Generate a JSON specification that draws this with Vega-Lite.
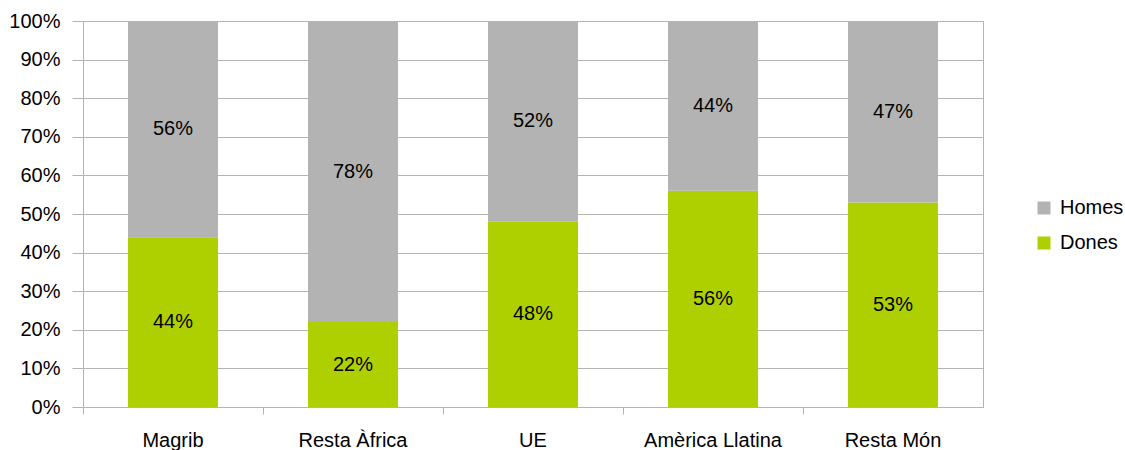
{
  "$schema": "https://vega.github.io/schema/vega-lite/v6.json",
  "autosize": {"type": "none"},
  "width": 900,
  "height": 386,
  "padding": {"left": 83, "top": 21, "right": 142, "bottom": 43},
  "background": "white",
  "config": {
    "font": "Liberation Sans",
    "view": {"stroke": "#b3b3b3", "strokeWidth": 1}
  },
  "data": {
    "values": [
      {"region": "Magrib", "sexe": "Dones", "value": 0.44},
      {"region": "Magrib", "sexe": "Homes", "value": 0.56},
      {"region": "Resta Àfrica", "sexe": "Dones", "value": 0.22},
      {"region": "Resta Àfrica", "sexe": "Homes", "value": 0.78},
      {"region": "UE", "sexe": "Dones", "value": 0.48},
      {"region": "UE", "sexe": "Homes", "value": 0.52},
      {"region": "Amèrica Llatina", "sexe": "Dones", "value": 0.56},
      {"region": "Amèrica Llatina", "sexe": "Homes", "value": 0.44},
      {"region": "Resta Món", "sexe": "Dones", "value": 0.53},
      {"region": "Resta Món", "sexe": "Homes", "value": 0.47}
    ]
  },
  "encoding": {
    "x": {
      "field": "region",
      "type": "nominal",
      "sort": null,
      "scale": {"paddingInner": 0.5, "paddingOuter": 0.25},
      "axis": {
        "title": null,
        "labelAngle": 0,
        "labelFontSize": 20,
        "labelColor": "#000000",
        "labelPadding": 16,
        "tickSize": 7,
        "tickColor": "#b3b3b3",
        "bandPosition": -0.5,
        "domainColor": "#b3b3b3",
        "grid": false
      }
    },
    "y": {
      "field": "value",
      "type": "quantitative",
      "stack": "zero",
      "scale": {"domain": [0, 1], "nice": false},
      "axis": {
        "title": null,
        "format": ".0%",
        "values": [0, 0.1, 0.2, 0.3, 0.4, 0.5, 0.6, 0.7, 0.8, 0.9, 1],
        "labelOverlap": false,
        "labelFontSize": 20,
        "labelColor": "#000000",
        "labelPadding": 12,
        "tickSize": 11,
        "tickColor": "#b3b3b3",
        "domainColor": "#b3b3b3",
        "gridColor": "#b3b3b3",
        "grid": true
      }
    },
    "order": {"field": "sexe", "sort": "ascending"}
  },
  "layer": [
    {
      "mark": {"type": "bar"},
      "encoding": {
        "color": {
          "field": "sexe",
          "type": "nominal",
          "scale": {"domain": ["Homes", "Dones"], "range": ["#b3b3b3", "#afd000"]},
          "legend": {
            "title": null,
            "orient": "none",
            "legendX": 951,
            "legendY": 177,
            "symbolType": "square",
            "symbolSize": 169,
            "symbolStrokeWidth": 0,
            "labelFontSize": 20,
            "labelColor": "#000000",
            "rowPadding": 15,
            "labelOffset": 6
          }
        }
      }
    },
    {
      "mark": {"type": "text", "fontSize": 20, "color": "#000000", "baseline": "middle"},
      "encoding": {
        "y": {
          "field": "value",
          "type": "quantitative",
          "stack": "zero",
          "bandPosition": 0.5,
          "scale": {"domain": [0, 1], "nice": false},
          "axis": {
            "title": null,
            "format": ".0%",
            "values": [0, 0.1, 0.2, 0.3, 0.4, 0.5, 0.6, 0.7, 0.8, 0.9, 1],
            "labelOverlap": false,
            "labelFontSize": 20,
            "labelColor": "#000000",
            "labelPadding": 12,
            "tickSize": 11,
            "tickColor": "#b3b3b3",
            "domainColor": "#b3b3b3",
            "gridColor": "#b3b3b3",
            "grid": true
          }
        },
        "text": {"field": "value", "type": "quantitative", "format": ".0%"}
      }
    }
  ]
}
